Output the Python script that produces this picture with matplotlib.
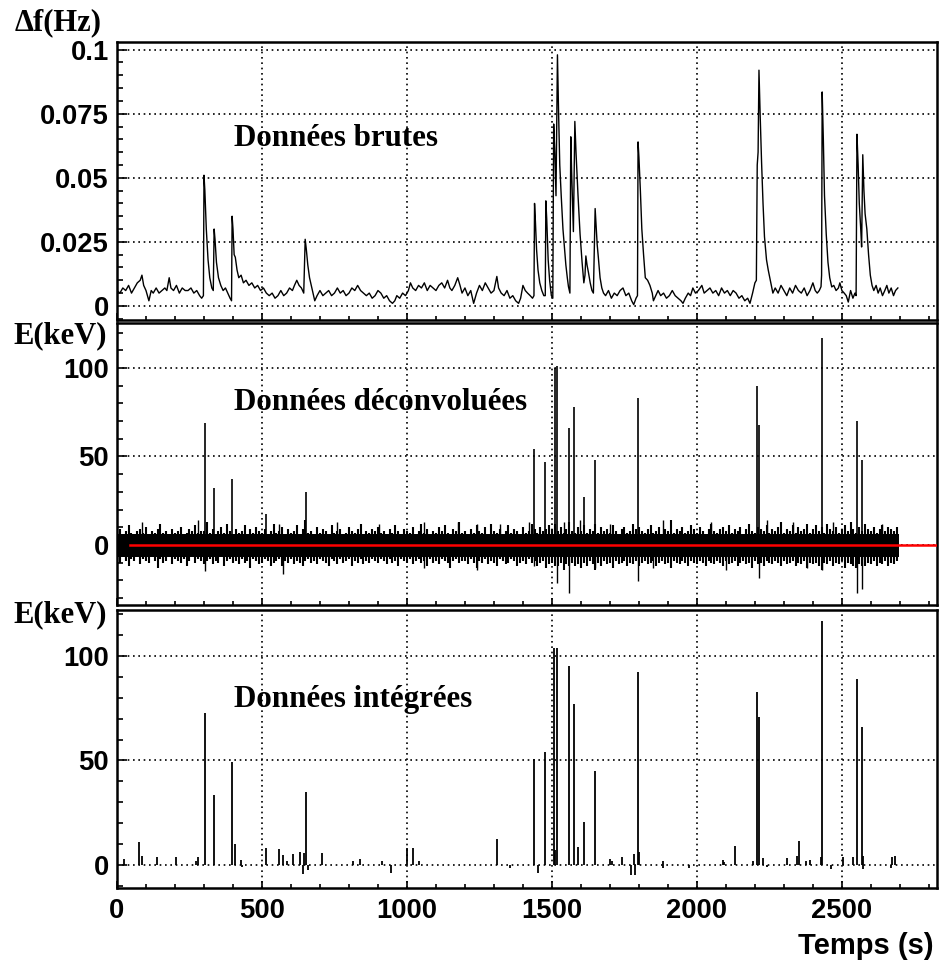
import matplotlib
matplotlib.use("Agg")
import matplotlib.pyplot as plt
from matplotlib.ticker import MultipleLocator, FixedLocator

# ---------------- data ----------------
# Top panel: raw frequency shift (s, Hz)
raw_t = [0, 10, 20, 30, 40, 50, 60, 70, 80, 86, 92, 100, 110, 118, 125, 135, 145, 155, 165, 172,
         180, 186, 195, 205, 215, 225, 235, 245, 255, 265, 275, 285, 292, 298, 300, 303, 308, 314, 320, 327,
         332, 335, 338, 343, 350, 358, 366, 374, 382, 390, 395, 397, 400, 404, 408, 414, 420, 428, 436, 445,
         455, 465, 475, 485, 495, 505, 515, 525, 535, 545, 555, 565, 575, 585, 595, 605, 612, 620, 628, 636,
         644, 649, 653, 658, 664, 670, 676, 682, 690, 700, 710, 720, 730, 740, 750, 760, 770, 780, 790, 800,
         810, 820, 830, 840, 850, 860, 870, 880, 890, 900, 910, 920, 930, 940, 950, 958, 965, 975, 985, 995,
         1005, 1012, 1020, 1030, 1040, 1050, 1060, 1070, 1080, 1090, 1100, 1110, 1120, 1130, 1140, 1148, 1155, 1165, 1175, 1183,
         1190, 1200, 1210, 1220, 1230, 1240, 1250, 1260, 1270, 1280, 1290, 1300, 1310, 1316, 1325, 1335, 1345, 1355, 1365, 1375,
         1385, 1392, 1400, 1408, 1416, 1425, 1433, 1438, 1440, 1443, 1447, 1452, 1458, 1465, 1472, 1477, 1479, 1482, 1487, 1492,
         1498, 1503, 1506, 1510, 1514, 1519, 1523, 1527, 1532, 1538, 1543, 1548, 1553, 1557, 1562, 1565, 1568, 1571, 1574, 1579,
         1583, 1590, 1597, 1604, 1610, 1614, 1617, 1621, 1626, 1632, 1638, 1643, 1649, 1652, 1656, 1660, 1666, 1672, 1678, 1685,
         1695, 1705, 1715, 1725, 1735, 1745, 1755, 1765, 1775, 1782, 1790, 1795, 1797, 1800, 1805, 1810, 1816, 1822, 1830, 1838,
         1846, 1850, 1858, 1866, 1875, 1885, 1895, 1905, 1915, 1925, 1935, 1945, 1952, 1960, 1970, 1978, 1986, 1995, 2005, 2017,
         2025, 2035, 2045, 2055, 2065, 2075, 2085, 2095, 2105, 2115, 2125, 2135, 2145, 2155, 2165, 2175, 2183, 2192, 2200, 2205,
         2208, 2211, 2214, 2218, 2223, 2228, 2233, 2240, 2246, 2253, 2262, 2270, 2280, 2290, 2300, 2310, 2320, 2330, 2340, 2350,
         2360, 2370, 2380, 2390, 2400, 2408, 2415, 2422, 2428, 2430, 2432, 2436, 2440, 2446, 2452, 2458, 2465, 2472, 2480, 2488,
         2493, 2500, 2508, 2515, 2522, 2530, 2538, 2545, 2549, 2552, 2556, 2560, 2565, 2568, 2572, 2576, 2580, 2586, 2592, 2598,
         2604, 2610, 2618, 2625, 2632, 2640, 2648, 2655, 2662, 2670, 2678, 2685, 2693]
raw_df = [0.006, 0.005, 0.007, 0.006, 0.008, 0.005, 0.007, 0.009, 0.010, 0.012, 0.008, 0.006, 0.002, 0.006, 0.005, 0.007, 0.005, 0.006, 0.007, 0.006,
          0.011, 0.007, 0.006, 0.008, 0.005, 0.007, 0.006, 0.006, 0.007, 0.005, 0.006, 0.004, 0.003, 0.004, 0.051, 0.045, 0.030, 0.018, 0.011, 0.007,
          0.006, 0.030, 0.026, 0.017, 0.011, 0.008, 0.006, 0.007, 0.005, 0.003, 0.002, 0.035, 0.030, 0.020, 0.019, 0.014, 0.011, 0.012, 0.009, 0.010,
          0.008, 0.009, 0.007, 0.008, 0.006, 0.007, 0.005, 0.004, 0.005, 0.003, 0.004, 0.006, 0.004, 0.005, 0.007, 0.006, 0.008, 0.010, 0.008, 0.007,
          0.005, 0.026, 0.022, 0.016, 0.011, 0.008, 0.005, 0.002, 0.004, 0.006, 0.004, 0.005, 0.006, 0.004, 0.005, 0.007, 0.005, 0.006, 0.004, 0.005,
          0.007, 0.006, 0.008, 0.006, 0.005, 0.004, 0.005, 0.003, 0.004, 0.006, 0.005, 0.003, 0.004, 0.002, 0.001, 0.002, 0.004, 0.003, 0.005, 0.004,
          0.006, 0.009, 0.007, 0.006, 0.008, 0.007, 0.009, 0.006, 0.008, 0.007, 0.006, 0.008, 0.009, 0.007, 0.010, 0.007, 0.006, 0.008, 0.011, 0.008,
          0.005, 0.007, 0.004, 0.006, 0.001, 0.005, 0.008, 0.006, 0.009, 0.007, 0.005, 0.006, 0.0115, 0.007, 0.005, 0.004, 0.006, 0.003, 0.004, 0.002,
          0.001, 0.003, 0.008, 0.006, 0.005, 0.004, 0.003, 0.004, 0.040, 0.033, 0.022, 0.014, 0.009, 0.006, 0.004, 0.004, 0.041, 0.034, 0.018, 0.010,
          0.004, 0.003, 0.071, 0.060, 0.043, 0.098, 0.075, 0.055, 0.043, 0.030, 0.023, 0.016, 0.011, 0.0075, 0.005, 0.066, 0.052, 0.040, 0.029, 0.072,
          0.060, 0.043, 0.028, 0.017, 0.009, 0.012, 0.0195, 0.016, 0.013, 0.009, 0.006, 0.005, 0.038, 0.032, 0.024, 0.019, 0.011, 0.007, 0.005, 0.004,
          0.006, 0.003, 0.005, 0.004, 0.006, 0.007, 0.004, 0.005, 0.002, 0.0005, 0.003, 0.004, 0.064, 0.058, 0.045, 0.030, 0.020, 0.011, 0.010, 0.008,
          0.005, 0.002, 0.004, 0.006, 0.004, 0.005, 0.003, 0.004, 0.006, 0.004, 0.003, 0.002, 0.001, 0.003, 0.005, 0.004, 0.007, 0.005, 0.006, 0.008,
          0.005, 0.006, 0.007, 0.005, 0.006, 0.004, 0.007, 0.005, 0.006, 0.004, 0.006, 0.005, 0.003, 0.004, 0.002, 0.003, 0.001, 0.005, 0.009, 0.010,
          0.055, 0.060, 0.092, 0.075, 0.056, 0.040, 0.027, 0.018, 0.014, 0.010, 0.005, 0.007, 0.005, 0.008, 0.006, 0.004, 0.007, 0.005, 0.008, 0.006,
          0.005, 0.007, 0.004, 0.006, 0.009, 0.006, 0.005, 0.006, 0.0075, 0.012, 0.0835, 0.065, 0.043, 0.028, 0.017, 0.011, 0.0074, 0.008, 0.006, 0.007,
          0.009, 0.006, 0.005, 0.004, 0.0015, 0.006, 0.003, 0.005, 0.004, 0.067, 0.055, 0.040, 0.030, 0.023, 0.059, 0.045, 0.036, 0.030, 0.020, 0.012,
          0.008, 0.006, 0.008, 0.005, 0.007, 0.004, 0.006, 0.008, 0.005, 0.007, 0.004, 0.006, 0.007]

# Middle panel: deconvolved data.
# Noise: solid core of the band, then the hair tips read every 10 s (0 .. 2690 s)
noise_core = [-7, 6]
noise_span = [0, 2697]
noise_dt = 10
noise_hi = [7, 9, 6, 8, 11, 7, 6, 8, 9, 7, 10, 6, 8, 7, 9, 12, 7, 8, 6, 9, 7, 8, 10, 6, 7, 9, 8, 11, 7, 8,
            8, 13, 7, 9, 6, 8, 10, 7, 12, 8, 6, 9, 7, 8, 11, 6, 9, 7, 10, 8, 7, 9, 6, 8, 12, 7, 8, 10, 6, 9,
            7, 8, 11, 6, 9, 14, 7, 8, 6, 10, 7, 9, 8, 6, 11, 7, 8, 9, 6, 7, 10, 8, 7, 9, 12, 6, 8, 7, 9, 8,
            10, 7, 8, 6, 9, 7, 11, 8, 6, 9, 8, 7, 10, 6, 8, 12, 7, 9, 6, 8, 7, 10, 8, 11, 7, 6, 9, 8, 13, 7,
            8, 6, 9, 7, 11, 8, 7, 10, 6, 12, 8, 7, 9, 6, 8, 11, 7, 9, 8, 6, 10, 7, 8, 12, 9, 7, 10, 8, 9, 11,
            9, 12, 8, 10, 7, 9, 13, 8, 7, 10, 8, 11, 7, 9, 8, 12, 7, 10, 8, 9, 7, 11, 8, 6, 9, 10, 7, 8, 12, 9,
            10, 8, 7, 9, 11, 7, 8, 10, 6, 9, 8, 14, 7, 9, 8, 10, 7, 8, 11, 9, 7, 10, 8, 6, 9, 12, 8, 7, 9, 10,
            8, 11, 7, 9, 8, 10, 6, 9, 12, 8, 7, 10, 9, 8, 11, 7, 9, 8, 10, 13, 7, 9, 8, 11, 7, 10, 8, 9, 12, 7,
            9, 11, 8, 10, 7, 12, 9, 8, 10, 7, 9, 11, 8, 13, 9, 7, 10, 8, 12, 9, 8, 10, 7, 9, 11, 8, 10, 9, 8, 10]
noise_lo = [-8, -10, -7, -9, -12, -8, -9, -7, -11, -8, -9, -10, -7, -9, -13, -8, -10, -9, -7, -11, -8, -9, -10, -8, -12, -9, -7, -10, -8, -9,
            -11, -9, -8, -11, -9, -10, -7, -12, -9, -8, -10, -9, -11, -8, -10, -9, -13, -8, -9, -11, -10, -8, -9, -12, -10, -9, -8, -12, -9, -10,
            -8, -11, -9, -10, -12, -9, -8, -10, -9, -11, -8, -9, -10, -12, -8, -9, -11, -8, -10, -9, -8, -12, -9, -10, -8, -11, -9, -10, -8, -9,
            -10, -8, -9, -11, -8, -10, -9, -12, -8, -9, -10, -8, -11, -9, -8, -10, -9, -12, -8, -10, -9, -11, -8, -9, -10, -13, -9, -8, -10, -9,
            -9, -11, -8, -10, -13, -9, -10, -8, -11, -9, -10, -12, -8, -9, -11, -10, -8, -9, -12, -10, -9, -11, -8, -10, -9, -12, -10, -9, -13, -11,
            -10, -12, -12, -10, -14, -11, -12, -10, -12, -11, -13, -10, -12, -9, -11, -14, -10, -12, -9, -11, -10, -13, -9, -11, -10, -9, -12, -10, -11, -9,
            -12, -10, -9, -11, -10, -9, -12, -10, -9, -11, -10, -13, -9, -10, -11, -9, -10, -12, -9, -10, -11, -9, -10, -12, -9, -10, -11, -9, -10, -12,
            -9, -11, -10, -9, -12, -10, -9, -11, -10, -13, -9, -11, -10, -12, -9, -10, -11, -9, -10, -12, -9, -11, -10, -9, -12, -10, -11, -9, -13, -10,
            -11, -10, -12, -14, -10, -11, -9, -12, -10, -11, -9, -13, -10, -11, -12, -13, -11, -12, -12, -10, -11, -9, -12, -10, -11, -9, -12, -10, -11, -9]
# larger noise excursions in the deconvolved data
noise_sp_t = [85, 280, 560, 760, 905, 1060, 1175, 1240, 1320, 1420, 1542, 1598, 1700, 1882, 2050, 2240, 2330, 2470, 2640,
              303, 572, 1060, 1240, 1438, 1516, 1560, 1648, 1797, 2213, 2431, 2552, 2570, 1850, 2100, 2380]
noise_sp_v = [13, 14, 12, 13, 12, 13, 13, 12, 12, 13, 13, 14, 12, 14, 13, 14, 13, 13, 12,
              -15, -16.5, -13, -14, -12, -21.5, -27, -13, -20.5, -19, -14, -27, -25, -13, -14, -13]
# deconvolved pulses (s, keV)
dec_t = [303, 335, 397, 514, 651, 1438, 1476, 1510, 1516, 1560, 1576, 1611, 1648, 1797, 2208, 2213, 2431, 2552, 2570]
dec_e = [69, 32, 37, 17.5, 30, 54, 47, 100, 101, 66, 78, 27, 48, 83, 90, 68, 117, 70, 48]
zero_line_t = [45, 2830]

# Bottom panel: integrated data (s, keV)
int_t = [25, 76, 85, 138, 203, 272, 278, 303, 335, 397, 406, 427, 430, 514, 559, 573, 585, 606, 632, 640,
         645, 651, 657, 706, 815, 838, 913, 944, 1000, 1020, 1040, 1310, 1355, 1438, 1452, 1476, 1508, 1511, 1516, 1560,
         1576, 1589, 1611, 1648, 1700, 1707, 1741, 1772, 1783, 1788, 1797, 1799, 1882, 1884, 1972, 2090, 2095, 2131, 2193, 2208,
         2213, 2228, 2240, 2310, 2344, 2352, 2376, 2390, 2428, 2431, 2462, 2504, 2538, 2552, 2570, 2572, 2574, 2670, 2672, 2683]
int_e = [3, 11, 4.3, 4, 3.8, 2, 3.8, 72.5, 33.6, 49.5, 10, 2.5, -0.8, 8, 7.7, 4.6, 2, 5.3, 6.2, -4.2,
         5.7, 35, -2.5, 5.7, 2, 2.8, 2, -3.8, 8.2, 8.2, 2, 12.5, -1.5, 50.5, -4, 54, 104, 7, 104, 95,
         77, 8.5, 20.7, 45, 2.8, 2, 4, -5, 5.3, -5, 92.5, 6, 2, -1.5, -1.5, 2.6, 1.5, 9, 2, 83,
         71, 3.2, -1, 3.2, 4.3, 11.5, 2, 2.4, 4, 116.5, -2, 4, 3.8, 89, 66, 4.5, -2, -1.5, 3.8, 4.5]

titles = ["Données brutes", "Données déconvoluées", "Données intégrées"]
ylabels = ["\u0394f(Hz)", "E(keV)", "E(keV)"]
xticks = [0, 500, 1000, 1500, 2000, 2500]

# ---------------- figure ----------------
W, H = 940, 968
fig = plt.figure(figsize=(W / 100, H / 100), dpi=100)


def fx(px):
    return px / W


def fy(py):
    return 1 - py / H


left, right = 117, 937
boxes = [(42, 320), (323, 605), (610, 888)]
axes = []
for (top, bot) in boxes:
    ax = fig.add_axes([fx(left), fy(bot), fx(right - left), (bot - top) / H])
    axes.append(ax)

sans = ["Liberation Sans", "DejaVu Sans"]
serif = ["Liberation Serif", "DejaVu Serif"]
grid_kw = dict(color="black", linestyle=(0, (1, 2.2)), linewidth=1.2)

for i, ax in enumerate(axes):
    ax.set_xlim(0, 2828)
    ax.xaxis.set_major_locator(FixedLocator(xticks))
    ax.xaxis.set_minor_locator(MultipleLocator(100))
    ax.tick_params(axis="both", which="both", direction="in", top=False, right=False)
    ax.tick_params(axis="x", which="major", length=5, width=1.2, pad=7)
    ax.tick_params(axis="x", which="minor", length=3, width=1.2)
    ax.tick_params(axis="y", which="major", length=7, width=1.2, pad=6)
    ax.tick_params(axis="y", which="minor", length=4, width=1.2)
    for s in ax.spines.values():
        s.set_linewidth(1.8)
    ax.grid(True, which="major", **grid_kw)
    ax.set_axisbelow(True)
    if i < 2:
        ax.tick_params(axis="x", labelbottom=False)

# top panel
ax0 = axes[0]
ax0.plot(raw_t, raw_df, color="black", linewidth=1.0)
ax0.set_ylim(-0.0055, 0.103)
ax0.yaxis.set_major_locator(FixedLocator([0, 0.025, 0.05, 0.075, 0.1]))
ax0.yaxis.set_minor_locator(MultipleLocator(0.005))
ax0.set_yticklabels(["0", "0.025", "0.05", "0.075", "0.1"])

# middle panel
ax1 = axes[1]
ax1.fill_between(noise_span, noise_core[0], noise_core[1], color="black", linewidth=0)
nt = [noise_dt * k for k in range(len(noise_hi))]
ax1.vlines(nt, noise_lo, noise_hi, color="black", linewidth=1.5)
ax1.vlines(noise_sp_t, 0, noise_sp_v, color="black", linewidth=1.0)
ax1.vlines(dec_t, 0, dec_e, color="black", linewidth=1.2)
ax1.plot(zero_line_t, [0, 0], color="#ff0000", linewidth=1.8, zorder=5)
ax1.set_ylim(-34, 125.5)
ax1.yaxis.set_major_locator(FixedLocator([0, 50, 100]))
ax1.yaxis.set_minor_locator(MultipleLocator(10))

# bottom panel
ax2 = axes[2]
ax2.vlines(int_t, 0, int_e, color="black", linewidth=1.3)
ax2.set_ylim(-11, 122)
ax2.yaxis.set_major_locator(FixedLocator([0, 50, 100]))
ax2.yaxis.set_minor_locator(MultipleLocator(10))
ax2.set_xticklabels([str(v) for v in xticks])

for ax in axes:
    for lab in ax.get_yticklabels() + ax.get_xticklabels():
        lab.set_fontfamily(sans)
        lab.set_fontweight("bold")
        lab.set_fontsize(19.7)

# panel titles
title_pos = [(234, 139), (234, 403), (234, 700)]
for ax, t, (px, py) in zip(axes, titles, title_pos):
    fig.text(fx(px), fy(py), t, family=serif, weight="bold", fontsize=22.3,
             ha="left", va="center")

# y labels
ylab_pos = [(102, 23), (107, 336), (107, 615)]
for t, (px, py) in zip(ylabels, ylab_pos):
    fig.text(fx(px), fy(py), t, family=serif, weight="bold", fontsize=22,
             ha="right", va="center")

fig.text(fx(934), fy(954), "Temps (s)", family=sans, weight="bold", fontsize=21,
         ha="right", va="baseline")

fig.savefig("out.png", dpi=100)
